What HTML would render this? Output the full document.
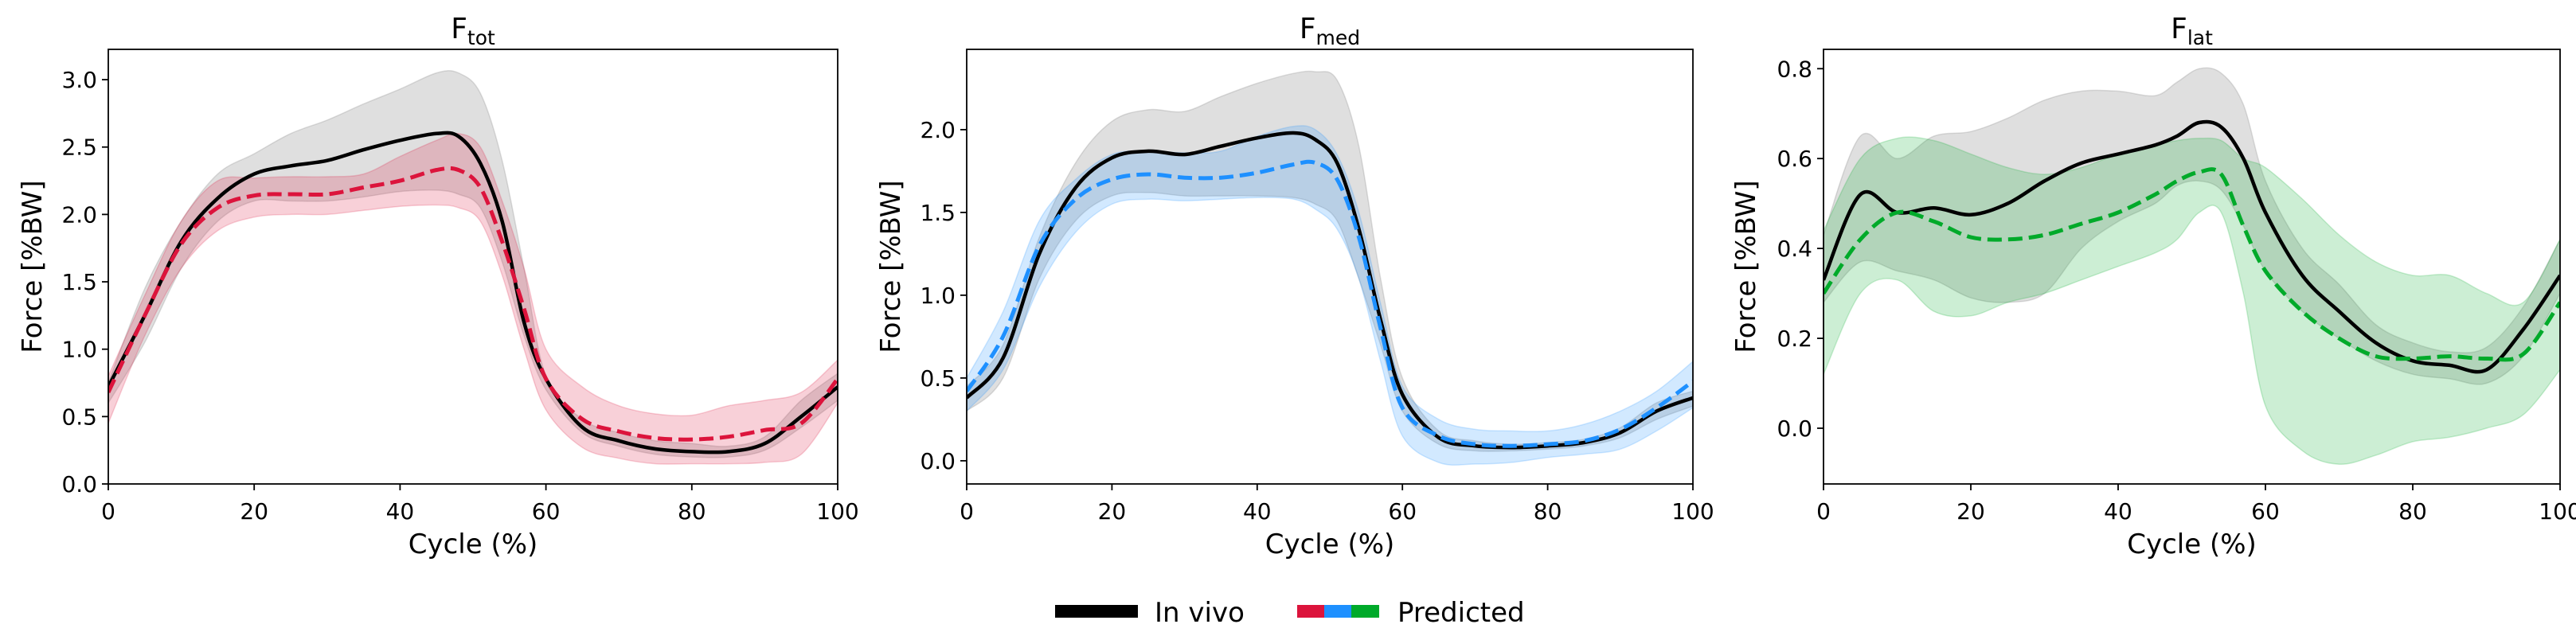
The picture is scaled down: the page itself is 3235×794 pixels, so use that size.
<!DOCTYPE html>
<html><head><meta charset="utf-8">
<style>
html,body{margin:0;padding:0;background:#fff;}
svg{display:block;}
text{font-family:"DejaVu Sans","Liberation Sans",sans-serif;fill:#000;}
</style></head>
<body>
<svg id="fig" width="3235" height="794" viewBox="0 0 3235 794" xmlns="http://www.w3.org/2000/svg">
<g id="legend">
  <rect x="1325" y="760" width="104" height="16" fill="#000"/>
  <text x="1450" y="781" font-size="34">In vivo</text>
  <rect x="1629" y="760" width="35" height="16" fill="#dc143c"/>
  <rect x="1663" y="760" width="35" height="16" fill="#1e90ff"/>
  <rect x="1697" y="760" width="35" height="16" fill="#00aa2a"/>
  <text x="1755" y="781" font-size="34">Predicted</text>
</g>
</svg>
<script>
const X = [0,5,10,15,20,25,30,35,40,45,48,51,54,57,60,65,70,75,80,85,90,95,100];
const xTicks = [0,20,40,60,80,100];
// Panel 1: F_tot
const totMean = [0.72,1.25,1.8,2.12,2.3,2.36,2.4,2.48,2.55,2.6,2.58,2.38,1.95,1.2,0.78,0.42,0.32,0.26,0.24,0.24,0.3,0.5,0.72];
const totHi   = [0.75,1.45,1.95,2.3,2.45,2.6,2.7,2.82,2.93,3.05,3.05,2.9,2.4,1.6,0.8,0.48,0.38,0.32,0.3,0.28,0.35,0.62,0.82];
const totLo   = [0.6,1.05,1.6,1.95,2.1,2.1,2.1,2.13,2.17,2.18,2.15,2.05,1.65,1.1,0.7,0.38,0.28,0.22,0.2,0.2,0.25,0.42,0.62];
const totPred = [0.68,1.25,1.78,2.05,2.14,2.15,2.15,2.2,2.25,2.33,2.33,2.2,1.8,1.3,0.78,0.48,0.39,0.34,0.33,0.35,0.4,0.45,0.78];
const totPredHi = [0.8,1.4,1.95,2.25,2.27,2.28,2.28,2.3,2.43,2.55,2.6,2.5,2.1,1.6,1.0,0.72,0.58,0.52,0.51,0.58,0.62,0.68,0.92];
const totPredLo = [0.45,1.1,1.6,1.88,1.98,2.0,2.0,2.03,2.06,2.07,2.05,1.95,1.55,1.0,0.55,0.27,0.19,0.15,0.15,0.15,0.16,0.22,0.6];
const totTicks = [0,0.5,1,1.5,2,2.5,3];
// Panel 2: F_med
const medMean = [0.38,0.62,1.25,1.65,1.83,1.87,1.85,1.9,1.95,1.98,1.94,1.8,1.4,0.85,0.4,0.14,0.09,0.08,0.09,0.11,0.17,0.3,0.38];
const medHi   = [0.45,0.7,1.35,1.8,2.05,2.12,2.11,2.2,2.28,2.34,2.35,2.3,1.9,1.1,0.5,0.18,0.12,0.1,0.11,0.13,0.2,0.35,0.42];
const medLo   = [0.3,0.5,1.1,1.45,1.6,1.62,1.6,1.6,1.6,1.59,1.55,1.45,1.1,0.7,0.3,0.1,0.06,0.06,0.07,0.09,0.14,0.25,0.33];
const medPred = [0.42,0.75,1.3,1.58,1.7,1.73,1.71,1.71,1.74,1.79,1.8,1.7,1.35,0.8,0.32,0.15,0.1,0.09,0.1,0.12,0.19,0.32,0.48];
const medPredHi = [0.5,0.9,1.45,1.7,1.85,1.87,1.86,1.87,1.96,2.02,2.0,1.85,1.5,0.95,0.45,0.25,0.19,0.18,0.18,0.22,0.3,0.42,0.6];
const medPredLo = [0.3,0.55,1.05,1.38,1.55,1.58,1.57,1.58,1.59,1.58,1.52,1.4,1.1,0.6,0.15,-0.01,-0.02,-0.01,0.02,0.04,0.07,0.18,0.32];
const medTicks = [0,0.5,1,1.5,2];
// Panel 3: F_lat
const latMean = [0.33,0.52,0.48,0.49,0.475,0.5,0.55,0.59,0.61,0.63,0.65,0.68,0.67,0.6,0.48,0.34,0.26,0.19,0.15,0.14,0.13,0.22,0.34];
const latHi   = [0.43,0.65,0.6,0.65,0.66,0.69,0.73,0.75,0.75,0.74,0.77,0.8,0.79,0.72,0.55,0.4,0.32,0.23,0.19,0.17,0.18,0.27,0.42];
const latLo   = [0.28,0.37,0.35,0.33,0.29,0.28,0.3,0.4,0.46,0.5,0.54,0.55,0.53,0.45,0.35,0.26,0.2,0.15,0.12,0.11,0.1,0.16,0.3];
const latPred = [0.3,0.42,0.48,0.46,0.425,0.42,0.43,0.455,0.48,0.52,0.55,0.57,0.565,0.45,0.35,0.26,0.2,0.16,0.155,0.16,0.155,0.165,0.28];
const latPredHi = [0.44,0.6,0.645,0.64,0.61,0.58,0.565,0.58,0.61,0.63,0.64,0.645,0.64,0.6,0.58,0.51,0.43,0.37,0.34,0.34,0.3,0.28,0.42];
const latPredLo = [0.12,0.3,0.33,0.26,0.25,0.28,0.3,0.33,0.36,0.39,0.42,0.48,0.48,0.3,0.05,-0.05,-0.08,-0.06,-0.03,-0.02,0.0,0.03,0.13];
const latTicks = [0,0.2,0.4,0.6,0.8];

const NS = "http://www.w3.org/2000/svg";
const svg = document.getElementById('fig');
function mk(tag, attrs, parent){const e=document.createElementNS(NS,tag);for(const k in attrs)e.setAttribute(k,attrs[k]);(parent||svg).appendChild(e);return e;}

function smoothPath(pts, move){
  let d = (move?'M':'L')+pts[0][0].toFixed(1)+','+pts[0][1].toFixed(1);
  for(let i=0;i<pts.length-1;i++){
    const p0=pts[Math.max(i-1,0)],p1=pts[i],p2=pts[i+1],p3=pts[Math.min(i+2,pts.length-1)];
    const c1=[p1[0]+(p2[0]-p0[0])/6,p1[1]+(p2[1]-p0[1])/6];
    const c2=[p2[0]-(p3[0]-p1[0])/6,p2[1]-(p3[1]-p1[1])/6];
    d+='C'+c1[0].toFixed(1)+','+c1[1].toFixed(1)+' '+c2[0].toFixed(1)+','+c2[1].toFixed(1)+' '+p2[0].toFixed(1)+','+p2[1].toFixed(1);
  }
  return d;
}

function panel(cfg){
  const {L,R,T,B,ymin,ymax,name,sub,yticks,dec,color,mean,hi,lo,pmean,phi,plo,ylabX} = cfg;
  const sx = v => L + (v-0)/(100-0)*(R-L);
  const sy = v => B - (v-ymin)/(ymax-ymin)*(B-T);
  const g = mk('g',{});
  
  
  const clipId = 'clip-'+name;
  const cp = mk('clipPath',{id:clipId},g);
  mk('rect',{x:L,y:T,width:R-L,height:B-T},cp);
  const plot = mk('g',{'clip-path':'url(#'+clipId+')'},g);
  function band(h,l,fill,op,label){
    const up = X.map((x,i)=>[sx(x),sy(h[i])]);
    const dn = X.map((x,i)=>[sx(x),sy(l[i])]).reverse();
    const p = mk('path',{d:smoothPath(up,true)+smoothPath(dn,false)+'Z',fill:fill,'fill-opacity':op,stroke:fill,'stroke-opacity':op,'stroke-width':1.5},plot);
    
    
  }
  band(hi,lo,'#808080',0.25,name+'-invivo-band');
  band(phi,plo,color,0.2,name+'-predicted-band');
  const lm = mk('path',{d:smoothPath(X.map((x,i)=>[sx(x),sy(mean[i])]),true),fill:'none',stroke:'#000','stroke-width':4.5,'stroke-linejoin':'round'},plot);
  
  
  const pm = mk('path',{d:smoothPath(X.map((x,i)=>[sx(x),sy(pmean[i])]),true),fill:'none',stroke:color,'stroke-width':5,'stroke-dasharray':'18,8'},plot);
  
  
  const fr = mk('rect',{x:L,y:T,width:R-L,height:B-T,fill:'none',stroke:'#000','stroke-width':1.8},g);
  
  
  xTicks.forEach(v=>{
    const x=sx(v);
    mk('line',{x1:x,x2:x,y1:B,y2:B+8,stroke:'#000','stroke-width':1.8},g);
    const t = mk('text',{x:x,y:B+44,'font-size':28,'text-anchor':'middle'},g);
    t.textContent = v;
    
    
  });
  yticks.forEach(v=>{
    const y=sy(v);
    mk('line',{x1:L-8,x2:L,y1:y,y2:y,stroke:'#000','stroke-width':1.8},g);
    const t = mk('text',{x:L-14,y:y+10,'font-size':28,'text-anchor':'end'},g);
    t.textContent = v.toFixed(dec);
    
    
  });
  const xl = mk('text',{x:(L+R)/2,y:695,'font-size':34,'text-anchor':'middle'},g);
  xl.textContent='Cycle (%)';
  
  
  const yl = mk('text',{x:0,y:0,'font-size':34,'text-anchor':'middle',transform:'translate('+ylabX+','+((T+B)/2)+') rotate(-90)'},g);
  yl.textContent='Force [%BW]';
  
  
  const tt = mk('text',{x:(L+R)/2,y:48,'font-size':36,'text-anchor':'middle'},g);
  
  
  tt.appendChild(document.createTextNode('F'));
  const ts = mk('tspan',{'font-size':25,dy:8},tt);
  ts.textContent = sub;
}

panel({L:136,R:1052,T:62,B:608,ymin:0,ymax:3.225,name:'f-tot',sub:'tot',yticks:totTicks,dec:1,color:'#dc143c',
  mean:totMean,hi:totHi,lo:totLo,pmean:totPred,phi:totPredHi,plo:totPredLo,ylabX:52});
panel({L:1214,R:2126,T:62,B:608,ymin:-0.14,ymax:2.485,name:'f-med',sub:'med',yticks:medTicks,dec:1,color:'#1e90ff',
  mean:medMean,hi:medHi,lo:medLo,pmean:medPred,phi:medPredHi,plo:medPredLo,ylabX:1130});
panel({L:2290,R:3215,T:62,B:608,ymin:-0.124,ymax:0.843,name:'f-lat',sub:'lat',yticks:latTicks,dec:1,color:'#00aa2a',
  mean:latMean,hi:latHi,lo:latLo,pmean:latPred,phi:latPredHi,plo:latPredLo,ylabX:2204});
</script>
</body></html>
